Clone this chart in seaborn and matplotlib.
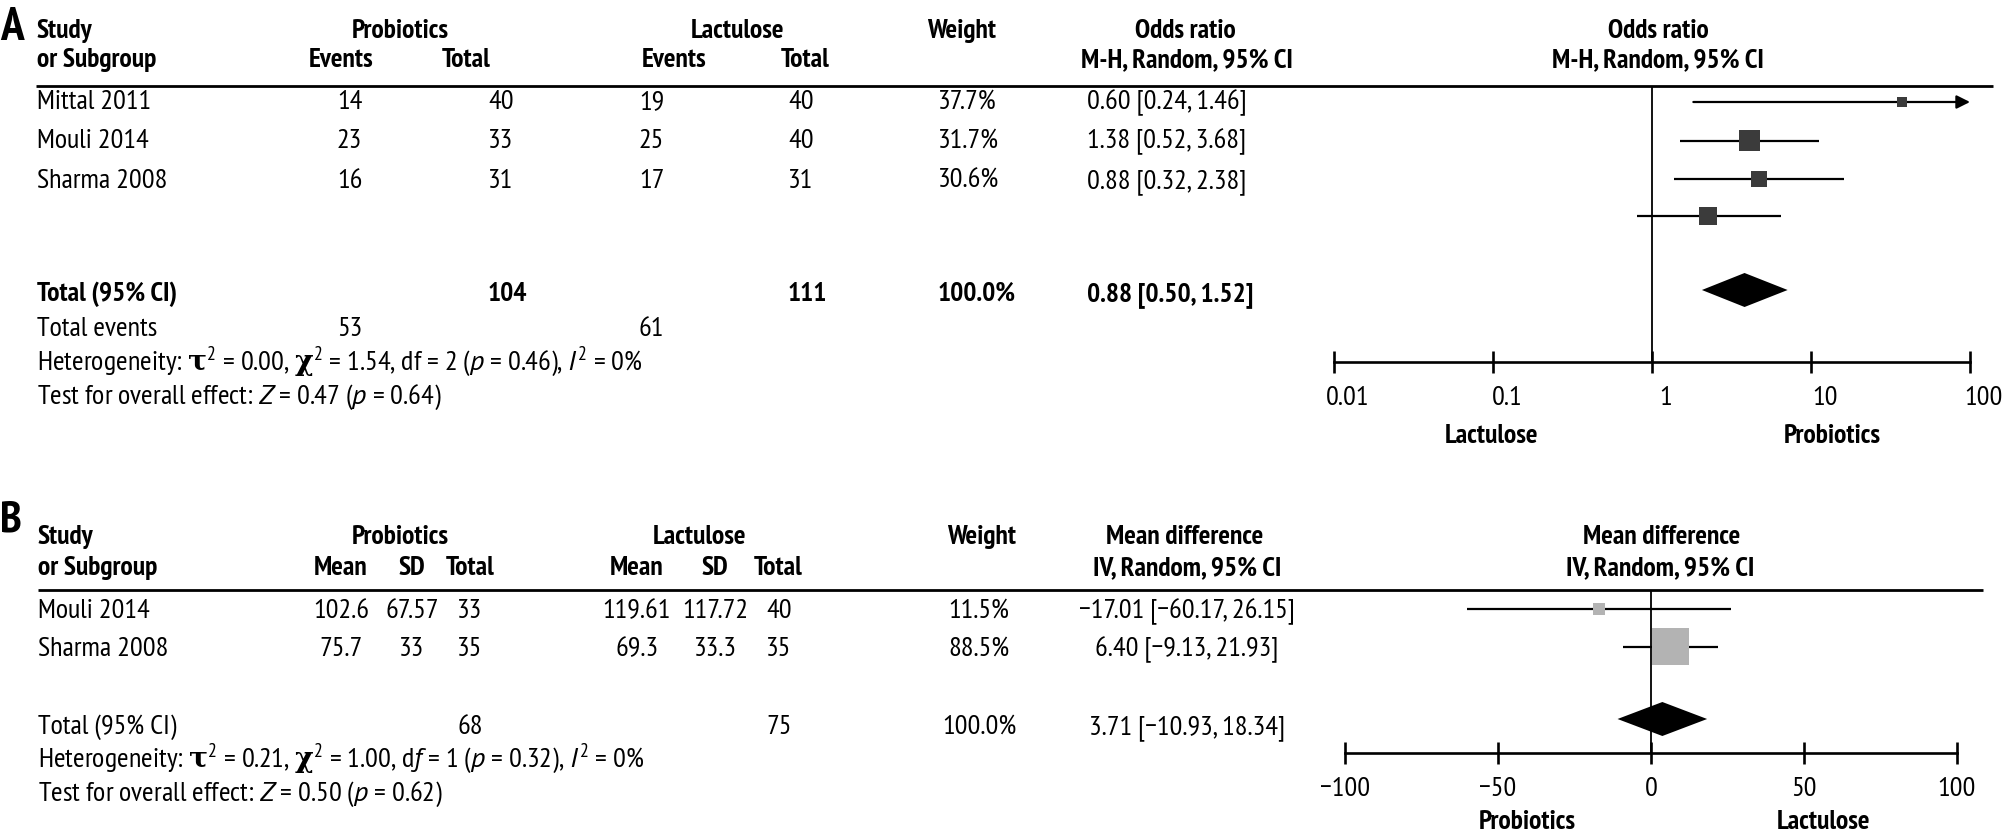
import numpy as np
import pandas as pd
import matplotlib
matplotlib.use("Agg")
import matplotlib.pyplot as plt
import matplotlib.transforms as mtransforms
from matplotlib.ticker import NullLocator
import seaborn as sns

# ------------------------------------------------------------------ data A
a_studies = ["Mittal 2011", "Mouli 2014", "Sharma 2008"]
a_pro_events = ["14", "23", "16"]
a_pro_total = ["40", "33", "31"]
a_lac_events = ["19", "25", "17"]
a_lac_total = ["40", "40", "31"]
a_weight = ["37.7%", "31.7%", "30.6%"]
a_or_text = ["0.60 [0.24, 1.46]", "1.38 [0.52, 3.68]", "0.88 [0.32, 2.38]"]
a_total_pro, a_total_lac, a_total_weight = "104", "111", "100.0%"
a_total_or = "0.88 [0.50, 1.52]"
a_total_events = ["53", "61"]
a_het = (r"Heterogeneity: $\mathsf{\tau}^{2}$ = 0.00, $\mathsf{\chi}^{2}$ = 1.54, "
         r"df = 2 ($p$ = 0.46), $I^{2}$ = 0%")
a_test = "Test for overall effect: $Z$ = 0.47 ($p$ = 0.64)"
# forest marks as drawn
a_est = [37.4, 4.10, 4.70, 2.25]
a_lo = [1.82, 1.51, 1.38, 0.81]
a_hi = [100.0, 11.3, 16.2, 6.47]
a_arrow = [True, False, False, False]
a_pooled = [2.06, 3.82, 7.13]          # lo, est, hi
a_ticks = [0.01, 0.1, 1, 10, 100]
a_ticklabels = ["0.01", "0.1", "1", "10", "100"]

# ------------------------------------------------------------------ data B
b_studies = ["Mouli 2014", "Sharma 2008"]
b_pro_mean = ["102.6", "75.7"]
b_pro_sd = ["67.57", "33"]
b_pro_total = ["33", "35"]
b_lac_mean = ["119.61", "69.3"]
b_lac_sd = ["117.72", "33.3"]
b_lac_total = ["40", "35"]
b_weight = ["11.5%", "88.5%"]
b_md_text = ["−17.01 [−60.17, 26.15]", "6.40 [−9.13, 21.93]"]
b_total_pro, b_total_lac, b_total_weight = "68", "75", "100.0%"
b_total_md = "3.71 [−10.93, 18.34]"
b_het = (r"Heterogeneity: $\mathsf{\tau}^{2}$ = 0.21, $\mathsf{\chi}^{2}$ = 1.00, "
         r"d$f$ = 1 ($p$ = 0.32), $I^{2}$ = 0%")
b_test = "Test for overall effect: $Z$ = 0.50 ($p$ = 0.62)"
b_est = [-17.01, 6.40]
b_lo = [-60.17, -9.13]
b_hi = [26.15, 21.93]
b_pooled = [-10.93, 3.71, 18.34]
b_ticks = [-100, -50, 0, 50, 100]
b_ticklabels = ["−100", "−50", "0", "50", "100"]

# ------------------------------------------------------------------ style
sns.set_theme(style="white")
FAM = ["PT Sans Narrow", "Fira Sans Condensed", "Roboto Condensed", "DejaVu Sans"]
plt.rcParams["font.family"] = FAM
plt.rcParams["mathtext.fontset"] = "custom"
plt.rcParams["mathtext.rm"] = "PT Sans Narrow"
plt.rcParams["mathtext.it"] = "PT Sans:italic"
plt.rcParams["mathtext.bf"] = "PT Sans Narrow:bold"
plt.rcParams["mathtext.sf"] = "DejaVu Serif:bold"
plt.rcParams["mathtext.fallback"] = "stixsans"

FS = 20.3    # regular text
FB = 19.8    # bold header text
W, H = 2003, 833
fig = plt.figure(figsize=(W / 100, H / 100), dpi=100)
fig.patch.set_facecolor("white")

tab = fig.add_axes([0, 0, 1, 1])
tab.set_xlim(0, W)
tab.set_ylim(H, 0)
tab.axis("off")


def txt(x, y, s, ha="left", bold=False, size=None):
    tab.text(x, y, s, ha=ha, va="baseline", color="black",
             fontsize=size if size else (FB if bold else FS),
             fontweight="bold" if bold else "normal")


def forest_axes(left, right, top, bottom):
    ax = fig.add_axes([left / W, 1 - bottom / H, (right - left) / W, (bottom - top) / H])
    ax.set_facecolor("none")
    for s in ("top", "left", "right"):
        ax.spines[s].set_visible(False)
    ax.spines["bottom"].set_linewidth(1.9)
    ax.spines["bottom"].set_color("black")
    ax.set_ylim(bottom, top)
    ax.set_yticks([])
    ax.tick_params(axis="x", direction="inout", length=16, width=1.9,
                   colors="black", labelsize=FS, pad=9, bottom=True)
    return ax


# ================================================================ PANEL A
txt(0, 40, "A", bold=True, size=34)
txt(37, 38, "Study", bold=True)
txt(37, 67, "or Subgroup", bold=True)
txt(400, 38, "Probiotics", ha="center", bold=True)
txt(341, 67, "Events", ha="center", bold=True)
txt(466, 67, "Total", ha="center", bold=True)
txt(737, 38, "Lactulose", ha="center", bold=True)
txt(674, 67, "Events", ha="center", bold=True)
txt(805, 67, "Total", ha="center", bold=True)
txt(962, 38, "Weight", ha="center", bold=True)
txt(1185, 38, "Odds ratio", ha="center", bold=True)
txt(1187, 67, "M-H, Random, 95% CI", ha="center", bold=True)
txt(1658, 38, "Odds ratio", ha="center", bold=True)
txt(1658, 67, "M-H, Random, 95% CI", ha="center", bold=True)
tab.plot([36, 1993], [86, 86], color="black", lw=2.0, solid_capstyle="butt")

a_rows_txt = [109, 148, 188]
for i, yb in enumerate(a_rows_txt):
    txt(37, yb, a_studies[i])
    txt(337, yb, a_pro_events[i])
    txt(488, yb, a_pro_total[i])
    txt(639, yb, a_lac_events[i])
    txt(788, yb, a_lac_total[i])
    txt(938, yb, a_weight[i])
    txt(1087, yb, a_or_text[i])
txt(37, 301, "Total (95% CI)", bold=True)
txt(488, 301, a_total_pro, bold=True)
txt(788, 301, a_total_lac, bold=True)
txt(938, 301, a_total_weight, bold=True)
txt(1087, 301, a_total_or, bold=True)
txt(37, 336, "Total events")
txt(337, 336, a_total_events[0])
txt(639, 336, a_total_events[1])
txt(37, 370, a_het)
txt(37, 404, a_test)

axA = forest_axes(1334, 1970, 86, 362)
axA.set_xscale("log")
axA.set_xlim(a_ticks[0], a_ticks[-1])
axA.xaxis.set_minor_locator(NullLocator())
axA.set_xticks(a_ticks)
axA.set_xticklabels(a_ticklabels)
shift = mtransforms.ScaledTranslation(14 / 100, 0, fig.dpi_scale_trans)
for lab in axA.get_xticklabels():
    lab.set_transform(lab.get_transform() + shift)
axA.axvline(1, color="black", lw=1.3, zorder=1)

a_rows = [102, 141, 179, 216]
a_sq_px = [9.5, 21, 16.5, 17.5]
for i in range(len(a_est)):
    if a_arrow[i]:
        axA.annotate("", xy=(a_hi[i], a_rows[i]), xytext=(a_lo[i], a_rows[i]),
                     arrowprops=dict(arrowstyle="-|>", color="black", lw=1.6,
                                     mutation_scale=20, shrinkA=0, shrinkB=0),
                     annotation_clip=False, zorder=2)
    else:
        axA.hlines(a_rows[i], a_lo[i], a_hi[i], color="black", lw=1.6, zorder=2)
dfA = pd.DataFrame({"est": a_est, "row": a_rows})
sns.scatterplot(data=dfA, x="est", y="row", marker="s", color="#3b3b3b",
                s=[(p * 0.72) ** 2 for p in a_sq_px], linewidth=0,
                legend=False, ax=axA, zorder=3)
yd, hd = 290, 17
axA.fill([a_pooled[0], a_pooled[1], a_pooled[2], a_pooled[1]],
         [yd, yd - hd, yd, yd + hd], color="black", lw=0, zorder=3)
axA.set_xlabel("")
axA.set_ylabel("")
axA.set_ylim(362, 86)
txt(1491, 443, "Lactulose", ha="center", bold=True)
txt(1832, 443, "Probiotics", ha="center", bold=True)

# ================================================================ PANEL B
txt(0, 532, "B", bold=True, size=32)
txt(38, 544, "Study", bold=True)
txt(38, 575, "or Subgroup", bold=True)
txt(400, 544, "Probiotics", ha="center", bold=True)
txt(341, 575, "Mean", ha="center", bold=True)
txt(412, 575, "SD", ha="center", bold=True)
txt(470, 575, "Total", ha="center", bold=True)
txt(700, 544, "Lactulose", ha="center", bold=True)
txt(637, 575, "Mean", ha="center", bold=True)
txt(715, 575, "SD", ha="center", bold=True)
txt(778, 575, "Total", ha="center", bold=True)
txt(982, 544, "Weight", ha="center", bold=True)
txt(1185, 544, "Mean difference", ha="center", bold=True)
txt(1187, 575, "IV, Random, 95% CI", ha="center", bold=True)
txt(1662, 544, "Mean difference", ha="center", bold=True)
txt(1660, 575, "IV, Random, 95% CI", ha="center", bold=True)
tab.plot([38, 1983], [590, 590], color="black", lw=2.0, solid_capstyle="butt")

b_rows_txt = [618, 656]
for i, yb in enumerate(b_rows_txt):
    txt(38, yb, b_studies[i])
    txt(341, yb, b_pro_mean[i], ha="center")
    txt(412, yb, b_pro_sd[i], ha="center")
    txt(470, yb, b_pro_total[i], ha="center")
    txt(637, yb, b_lac_mean[i], ha="center")
    txt(715, yb, b_lac_sd[i], ha="center")
    txt(779, yb, b_lac_total[i], ha="center")
    txt(979, yb, b_weight[i], ha="center")
    txt(1187, yb, b_md_text[i], ha="center")
txt(38, 734, "Total (95% CI)")
txt(470, 734, b_total_pro, ha="center")
txt(779, 734, b_total_lac, ha="center")
txt(979, 734, b_total_weight, ha="center")
txt(1187, 734, b_total_md, ha="center")
txt(38, 767, b_het)
txt(38, 801, b_test)

axB = forest_axes(1345, 1957, 590, 753)
axB.set_xlim(b_ticks[0], b_ticks[-1])
axB.set_xticks(b_ticks)
axB.set_xticklabels(b_ticklabels)
axB.axvline(0, color="black", lw=1.3, zorder=1)
b_rows = [609, 647]
b_sq_px = [11.5, 37]
axB.hlines(b_rows, b_lo, b_hi, color="black", lw=1.6, zorder=2)
dfB = pd.DataFrame({"est": b_est, "row": b_rows})
sns.scatterplot(data=dfB, x="est", y="row", marker="s", color="#b3b3b3",
                s=[(p * 0.72) ** 2 for p in b_sq_px], linewidth=0,
                legend=False, ax=axB, zorder=3)
yd = 719
axB.fill([b_pooled[0], b_pooled[1], b_pooled[2], b_pooled[1]],
         [yd, yd - hd, yd, yd + hd], color="black", lw=0, zorder=3)
axB.set_xlabel("")
axB.set_ylabel("")
axB.set_ylim(753, 590)
txt(1527, 829, "Probiotics", ha="center", bold=True)
txt(1823, 829, "Lactulose", ha="center", bold=True)

fig.savefig("out.png", dpi=100, facecolor="white")
